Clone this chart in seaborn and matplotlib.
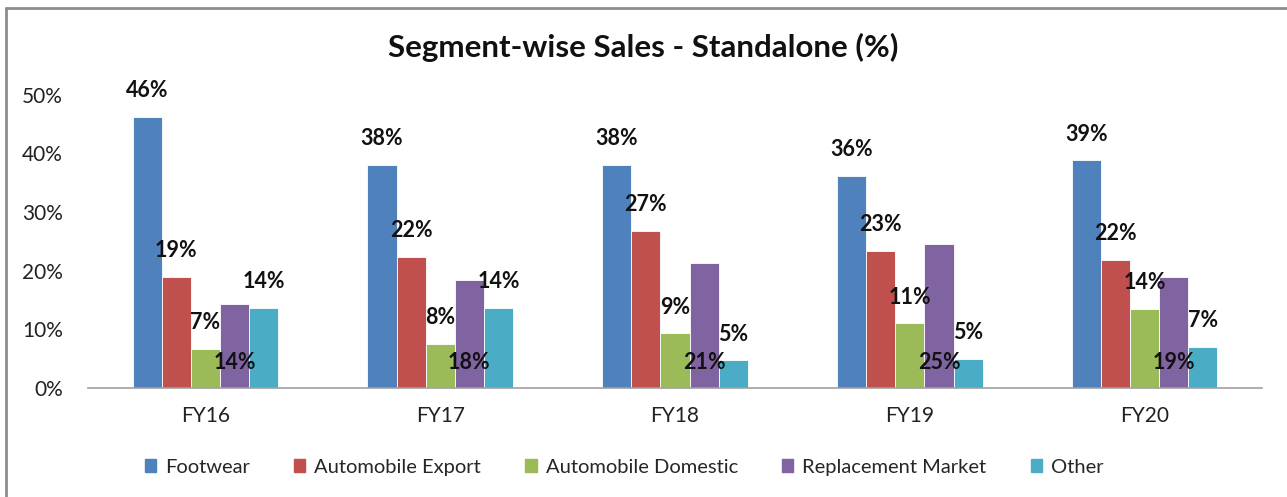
import pandas as pd
import matplotlib.pyplot as plt
import seaborn as sns
from matplotlib.lines import Line2D
from matplotlib.ticker import PercentFormatter

# Chart data
years = ['FY16', 'FY17', 'FY18', 'FY19', 'FY20']
segments = ['Footwear', 'Automobile Export', 'Automobile Domestic', 'Replacement Market', 'Other']
footwear = [46.2, 38.0, 38.0, 36.1, 38.8]
auto_export = [19.0, 22.3, 26.8, 23.4, 21.9]
auto_domestic = [6.6, 7.5, 9.3, 11.0, 13.5]
replacement = [14.3, 18.5, 21.3, 24.6, 19.0]
other = [13.7, 13.7, 4.7, 5.0, 7.0]
labels_fw = ['46%', '38%', '38%', '36%', '39%']
labels_ae = ['19%', '22%', '27%', '23%', '22%']
labels_ad = ['7%', '8%', '9%', '11%', '14%']
labels_rm = ['14%', '18%', '21%', '25%', '19%']
labels_ot = ['14%', '14%', '5%', '5%', '7%']

colors = ['#4F81BD', '#C0504D', '#9BBB59', '#8064A2', '#4BACC6']

# Long-form table for seaborn
series = [footwear, auto_export, auto_domestic, replacement, other]
rows = []
for seg, vals in zip(segments, series):
    for yr, v in zip(years, vals):
        rows.append({'Year': yr, 'Segment': seg, 'Share': v / 100})
df = pd.DataFrame(rows)

sns.set_style('white')
plt.rcParams['font.family'] = ['Lato', 'DejaVu Sans']

fig = plt.figure(figsize=(12.87, 4.97), dpi=100)
ax = fig.add_axes([0.0684, 0.2193, 0.9122, 0.590])

sns.barplot(data=df, x='Year', y='Share', hue='Segment', hue_order=segments,
            palette=colors, width=0.62, saturation=1, ax=ax, legend=False,
            edgecolor='white', linewidth=0.6)

ax.set_ylim(0, 0.5)
ax.set_xlim(-0.5, 4.5)
ax.yaxis.set_major_formatter(PercentFormatter(1.0, decimals=0))
ax.set_yticks([0, 0.1, 0.2, 0.3, 0.4, 0.5])
ax.tick_params(axis='y', length=0, pad=18, labelsize=15, labelcolor='#222222')
ax.tick_params(axis='x', length=0, pad=13, labelsize=15, labelcolor='#222222')
ax.set_xlabel('')
ax.set_ylabel('')
for s in ['top', 'right', 'left']:
    ax.spines[s].set_visible(False)
ax.spines['bottom'].set_color('#A0A0A0')
ax.spines['bottom'].set_linewidth(1.2)

# data labels: replacement market sits at the base, the rest above the bar
all_labels = [labels_fw, labels_ae, labels_ad, labels_rm, labels_ot]
for cont, labs, seg in zip(ax.containers, all_labels, segments):
    for bar, lab in zip(cont, labs):
        cx = bar.get_x() + bar.get_width() / 2
        if seg == 'Replacement Market':
            ax.text(cx, 0.026, lab, ha='center', va='bottom', fontsize=15.5,
                    fontweight='bold', color='#111111', clip_on=False)
        else:
            ax.text(cx, bar.get_height() + 0.027, lab, ha='center', va='bottom',
                    fontsize=15.5, fontweight='bold', color='#111111', clip_on=False)

fig.text(0.5, 0.905, 'Segment-wise Sales - Standalone (%)', ha='center', va='center',
         fontsize=22.5, fontweight='bold', color='#111111')

handles = [plt.Rectangle((0, 0), 1, 1, color=c) for c in colors]
fig.legend(handles, segments, loc='center', bbox_to_anchor=(0.485, 0.06), ncol=5,
           frameon=False, fontsize=14.5, handlelength=0.55, handleheight=0.55,
           columnspacing=2.2, handletextpad=0.45)

# chart frame (top and left edges only visible)
fig.add_artist(Line2D([0.0047, 1.0], [0.984, 0.984], color='#8C8C8C', lw=2,
                      transform=fig.transFigure))
fig.add_artist(Line2D([0.0047, 0.0047], [0.0, 0.984], color='#8C8C8C', lw=2,
                      transform=fig.transFigure))

fig.savefig('out.png', dpi=100, facecolor='white')
